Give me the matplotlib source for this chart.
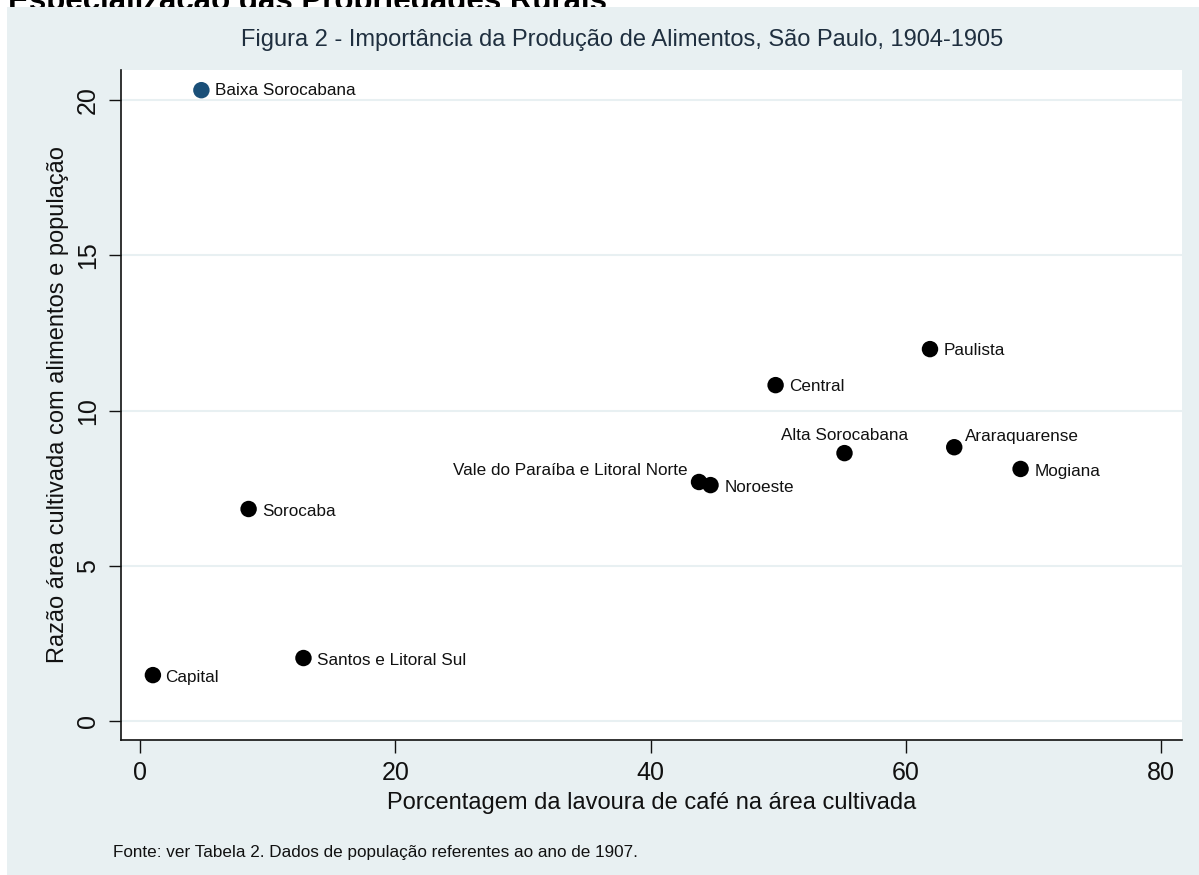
import matplotlib
matplotlib.use("Agg")
import matplotlib.pyplot as plt
from matplotlib.patches import Rectangle

# ---- data ----
regions = ["Baixa Sorocabana", "Capital", "Sorocaba", "Santos e Litoral Sul",
           "Vale do Paraíba e Litoral Norte", "Noroeste", "Central",
           "Alta Sorocabana", "Paulista", "Araraquarense", "Mogiana"]
cafe_pct = [4.8, 1.0, 8.5, 12.8, 43.8, 44.7, 49.8, 55.2, 61.9, 63.8, 69.0]
razao = [20.32, 1.48, 6.83, 2.03, 7.70, 7.60, 10.82, 8.63, 11.98, 8.82, 8.12]
xticks = [0, 20, 40, 60, 80]
yticks = [0, 5, 10, 15, 20]

# label placement (offset in points, ha)
label_pos = {
    "Baixa Sorocabana": ((10, 0), "left"),
    "Capital": ((9, -1.5), "left"),
    "Sorocaba": ((10, -1.5), "left"),
    "Santos e Litoral Sul": ((10, -1.5), "left"),
    "Vale do Paraíba e Litoral Norte": ((-8, 8), "right"),
    "Noroeste": ((10, -1.5), "left"),
    "Central": ((10, -1), "left"),
    "Alta Sorocabana": ((0, 12.5), "center"),
    "Paulista": ((10, -1), "left"),
    "Araraquarense": ((8, 8), "left"),
    "Mogiana": ((10, -2), "left"),
}

plt.rcParams['font.family'] = ['Liberation Sans', 'DejaVu Sans']

W, H = 1199, 875
fig = plt.figure(figsize=(W / 100, H / 100), dpi=100)
fig.patch.set_facecolor("white")

bg = "#e8f0f2"
# cut-off heading at top
fig.text(8 / W, 1 - 10 / H, "Especialização das Propriedades Rurais",
         fontsize=22.5, fontweight="bold", color="black", ha="left",
         va="baseline", zorder=0.5)
fig.patches.append(Rectangle((7 / W, 0), 1 - 7 / W, 1 - 7 / H,
                             transform=fig.transFigure, facecolor=bg,
                             edgecolor="none", zorder=1))

ax = fig.add_axes([121 / W, 1 - 740 / H, (1182 - 121) / W, (740 - 70) / H])
ax.set_zorder(2)
ax.set_facecolor("white")

colors = ["#1a4f78"] + ["black"] * (len(regions) - 1)
ax.scatter(cafe_pct, razao, s=140, c=colors, zorder=3, linewidths=0)

for name, x, y in zip(regions, cafe_pct, razao):
    off, ha = label_pos[name]
    ax.annotate(name, (x, y), xytext=off, textcoords="offset points",
                ha=ha, va="center", fontsize=12.3, color="#111111", zorder=4)

ax.set_xlim(-1.5, 81.65)
ax.set_ylim(-0.61, 20.97)
ax.set_xticks(xticks)
ax.set_yticks(yticks)
ax.grid(axis="y", color=bg, linewidth=1.5, zorder=0)
ax.set_axisbelow(True)
for s in ["top", "right"]:
    ax.spines[s].set_visible(False)
for s in ["left", "bottom"]:
    ax.spines[s].set_color("#111111")
    ax.spines[s].set_linewidth(1.2)
ax.tick_params(axis="both", direction="out", length=9, width=1.0,
               color="#111111", labelsize=18, labelcolor="#111111", pad=6)
for lbl in ax.get_yticklabels():
    lbl.set_rotation(90)
    lbl.set_va("center")

fig.text(622 / W, 1 - 40 / H,
         "Figura 2 - Importância da Produção de Alimentos, São Paulo, 1904-1905",
         fontsize=17, color="#1f2f3f", ha="center", va="center", zorder=3)
fig.text(652 / W, 1 - 803 / H, "Porcentagem da lavoura de café na área cultivada",
         fontsize=17, color="#111111", ha="center", va="center", zorder=3)
fig.text(58 / W, 1 - 405 / H, "Razão área cultivada com alimentos e população",
         fontsize=17, color="#111111", ha="center", va="center", rotation=90,
         zorder=3)
fig.text(113 / W, 1 - 853 / H,
         "Fonte: ver Tabela 2. Dados de população referentes ao ano de 1907.",
         fontsize=12.3, color="#111111", ha="left", va="center", zorder=3)

fig.savefig("out.png", dpi=100, facecolor=fig.get_facecolor())
